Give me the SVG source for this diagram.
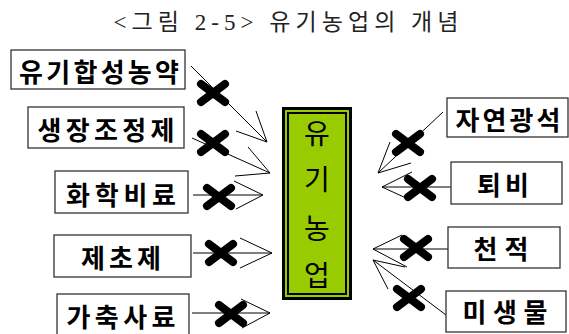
<svg xmlns="http://www.w3.org/2000/svg" xmlns:xlink="http://www.w3.org/1999/xlink" width="569" height="334" viewBox="0 0 569 334">
<style>
.box{fill:#fff;stroke:#333;stroke-width:1.3}
.lbl{font-family:"Noto Sans CJK KR","Noto Sans",sans-serif;font-weight:700;font-size:26px;fill:#000;text-anchor:middle;dominant-baseline:central}
.ctr{font-family:"Noto Sans CJK KR","Noto Sans",sans-serif;font-weight:400;font-size:28px;fill:#000;text-anchor:middle;dominant-baseline:central}
.title{font-family:"Liberation Serif","Noto Sans CJK KR",serif;font-size:23px;fill:#222;text-anchor:middle;dominant-baseline:central}
.ln{stroke:#000;stroke-width:1;fill:none}
.x{stroke:#000;stroke-width:8;stroke-linecap:round;fill:none}
</style>
<defs>
<path id="xm" class="x" d="M-12,-9 L12,9 M-12,9 L12,-9"/>
</defs>
<rect width="569" height="334" fill="#fff"/>
<text class="title" x="286" y="22" textLength="345" lengthAdjust="spacing">&lt;그림 2-5&gt; 유기농업의 개념</text>

<g id="connectors">
<path class="ln" d="M191,66 L267,142 M256,111 L267,142 L236,131"/>
<path class="ln" d="M192,138 L270,173 M248,147 L270,173 L235,176"/>
<path class="ln" d="M193,195 L263,195 M234,181 L263,195 L236,209"/>
<path class="ln" d="M193,253 L272,253 M240,238 L272,253 L240,268"/>
<path class="ln" d="M192,313 L270,313 M241,299 L270,313 L242,328"/>
<path class="ln" d="M443,112 L378,173 M390,142 L378,173 L411,163"/>
<path class="ln" d="M451,187 L382,187 M412,172 L382,187 L406,198"/>
<path class="ln" d="M448,249 L373,249 M402,235 L373,249 L407,267"/>
<path class="ln" d="M446,315 L373,260 M405,267 L373,260 L388,289"/>
<use xlink:href="#xm" x="213" y="93"/>
<use xlink:href="#xm" x="213" y="143"/>
<use xlink:href="#xm" x="219" y="197"/>
<use xlink:href="#xm" x="221" y="253"/>
<use xlink:href="#xm" x="231" y="314"/>
<use xlink:href="#xm" x="408" y="143"/>
<use xlink:href="#xm" x="420" y="188"/>
<use xlink:href="#xm" x="416" y="248"/>
<use xlink:href="#xm" x="409" y="298"/>
</g>

<g id="n1"><rect class="box" x="11" y="50" width="174" height="39"/><text class="lbl" x="99" y="70" textLength="160" lengthAdjust="spacing">유기합성농약</text></g>
<g id="n2"><rect class="box" x="28" y="107" width="156" height="41"/><text class="lbl" x="106" y="128" textLength="137" lengthAdjust="spacing">생장조정제</text></g>
<g id="n3"><rect class="box" x="55" y="171" width="133" height="42"/><text class="lbl" x="121" y="193" textLength="110" lengthAdjust="spacing">화학비료</text></g>
<g id="n4"><rect class="box" x="54" y="235" width="137" height="42"/><text class="lbl" x="121" y="256" textLength="80" lengthAdjust="spacing">제초제</text></g>
<g id="n5"><rect class="box" x="57" y="294" width="132" height="46"/><text class="lbl" x="121" y="315" textLength="109" lengthAdjust="spacing">가축사료</text></g>

<g id="center">
<rect x="283.5" y="108.5" width="67" height="190" fill="#99cc00" stroke="#000" stroke-width="3"/>
<rect x="288" y="113" width="58" height="181" fill="none" stroke="#000" stroke-width="2"/>
<text class="ctr" x="317" y="132">유</text>
<text class="ctr" x="317" y="178">기</text>
<text class="ctr" x="317" y="227">농</text>
<text class="ctr" x="317" y="274">업</text>
</g>

<g id="n6"><rect class="box" x="447" y="98" width="121" height="39"/><text class="lbl" x="508" y="118" textLength="105" lengthAdjust="spacing">자연광석</text></g>
<g id="n7"><rect class="box" x="451" y="162" width="111" height="42"/><text class="lbl" x="503" y="183" textLength="52" lengthAdjust="spacing">퇴비</text></g>
<g id="n8"><rect class="box" x="448" y="227" width="112" height="41"/><text class="lbl" x="501" y="247" textLength="55" lengthAdjust="spacing">천적</text></g>
<g id="n9"><rect class="box" x="446" y="291" width="120" height="41"/><text class="lbl" x="505" y="310" textLength="85" lengthAdjust="spacing">미생물</text></g>
</svg>
